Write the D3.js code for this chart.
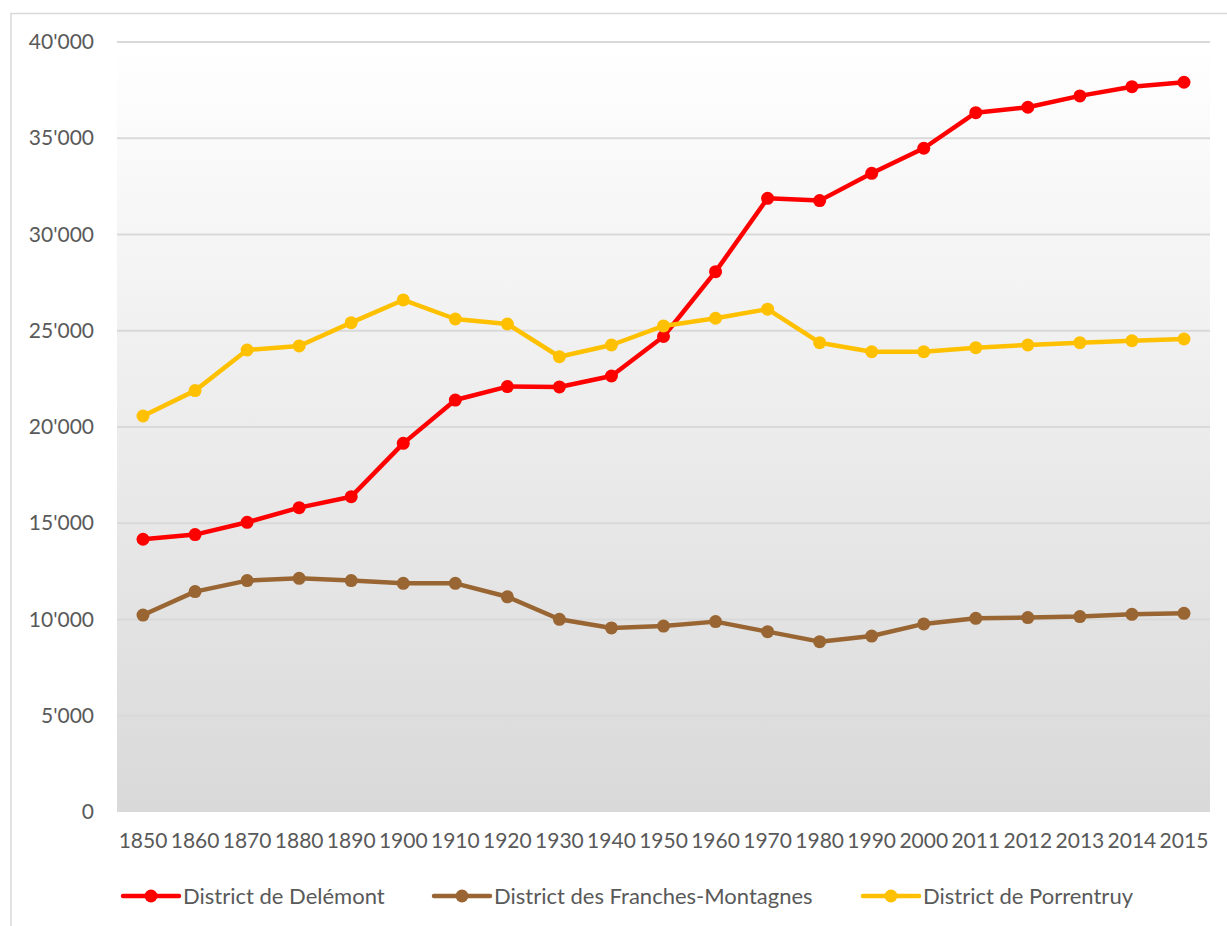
<!DOCTYPE html>
<html><head><meta charset="utf-8">
<script src="https://cdn.jsdelivr.net/npm/d3@7/dist/d3.min.js"></script>
<style>body{margin:0;background:#fff}svg{display:block}</style>
</head><body>
<script>
const years = ["1850","1860","1870","1880","1890","1900","1910","1920","1930","1940","1950","1960","1970","1980","1990","2000","2011","2012","2013","2014","2015"];
const delemont = [14170,14410,15050,15810,16380,19150,21400,22100,22080,22650,24700,28070,31880,31760,33180,34480,36330,36610,37200,37680,37910];
const franches = [10230,11450,12020,12140,12020,11880,11880,11180,10010,9560,9660,9890,9370,8850,9140,9770,10060,10100,10150,10270,10320];
const porrentruy = [20570,21890,24000,24210,25420,26600,25610,25350,23650,24260,25250,25650,26120,24380,23910,23910,24120,24260,24380,24480,24570];
const yTicks = [0,5000,10000,15000,20000,25000,30000,35000,40000];
const seriesNames = ["District de Delémont","District des Franches-Montagnes","District de Porrentruy"];
const seriesColors = ["#ff0000","#996633","#ffc000"];
const seriesData = [delemont, franches, porrentruy];

const W = 1227, H = 926;
const L = 117, R = 1210, T = 42, B = 812;
const font = "Lato, 'Open Sans', sans-serif";
const txt = "#595959";

const svg = d3.select("body").append("svg").attr("width", W).attr("height", H);
const defs = svg.append("defs");
const g = defs.append("linearGradient").attr("id","bg").attr("x1",0).attr("y1",0).attr("x2",0).attr("y2",1);
g.append("stop").attr("offset","0%").attr("stop-color","#ffffff");
g.append("stop").attr("offset","100%").attr("stop-color","#d9d9d9");

// outer border
svg.append("path").attr("d", `M11,${H} V13.5 H${W}`).attr("fill","none").attr("stroke","#d9d9d9").attr("stroke-width",1.5);

const x = d3.scaleBand().domain(years).range([L, R]);
const y = d3.scaleLinear().domain([0, 40000]).range([B, T]);

svg.append("rect").attr("x", L).attr("y", T).attr("width", R - L).attr("height", B - T).attr("fill","url(#bg)");

// gridlines
svg.append("g").selectAll("line").data(yTicks.filter(d => d > 0)).join("line")
  .attr("x1", L).attr("x2", R).attr("y1", d => y(d)).attr("y2", d => y(d))
  .attr("stroke","#d9d9d9").attr("stroke-width",2);

const fmt = v => v === 0 ? "0" : d3.format(",")(v).replace(/,/g, "'");

// y axis
const yAxis = svg.append("g").attr("transform", `translate(${L},0)`)
  .call(d3.axisLeft(y).tickValues(yTicks).tickFormat(fmt).tickSize(0).tickPadding(23));
yAxis.select(".domain").remove();
yAxis.selectAll("text").attr("font-family", font).attr("font-size", 21).attr("fill", txt);

// x axis
const xAxis = svg.append("g").attr("transform", `translate(0,${B})`)
  .call(d3.axisBottom(x).tickSize(0).tickPadding(21));
xAxis.select(".domain").remove();
xAxis.selectAll("text").attr("font-family", font).attr("font-size", 21).attr("fill", txt);

const cx = d => x(d) + x.bandwidth() / 2;
const line = d3.line().x((d, i) => cx(years[i])).y(d => y(d));

seriesData.forEach((data, k) => {
  const sg = svg.append("g");
  sg.append("path").datum(data).attr("d", line).attr("fill","none")
    .attr("stroke", seriesColors[k]).attr("stroke-width", 4.5).attr("stroke-linejoin","round").attr("stroke-linecap","round");
  sg.selectAll("circle").data(data).join("circle")
    .attr("cx", (d, i) => cx(years[i])).attr("cy", d => y(d)).attr("r", 6.5)
    .attr("fill", seriesColors[k]);
});

// legend
const legendX = [123, 434, 863];
const ly = 896;
seriesNames.forEach((name, k) => {
  const lg = svg.append("g").attr("transform", `translate(${legendX[k]},${ly})`);
  lg.append("line").attr("x1", 0).attr("x2", 56).attr("y1", 0).attr("y2", 0)
    .attr("stroke", seriesColors[k]).attr("stroke-width", 4.5).attr("stroke-linecap","round");
  lg.append("circle").attr("cx", 28).attr("cy", 0).attr("r", 6.5).attr("fill", seriesColors[k]);
  lg.append("text").attr("x", 60).attr("y", 0).attr("dy", "0.35em")
    .attr("font-family", font).attr("font-size", 22).attr("fill", txt).text(name);
});
</script>
</body></html>
